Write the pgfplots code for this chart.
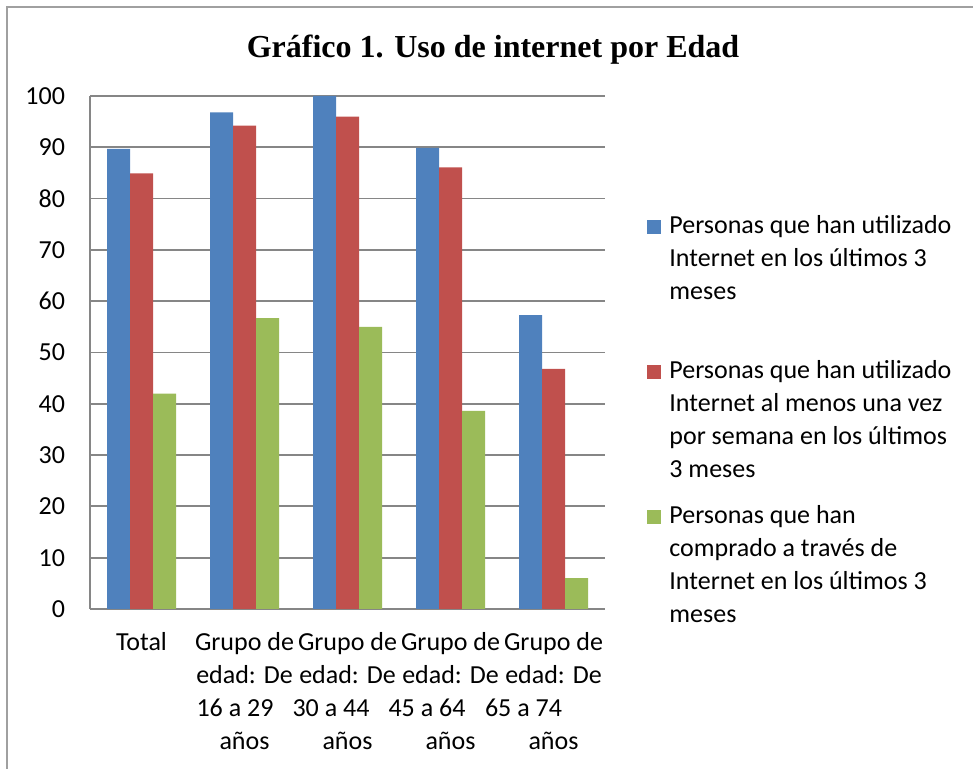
\documentclass[border=0pt]{standalone}
\usepackage{fontspec}
\setmainfont{Carlito}
\newfontfamily\titlefam{Liberation Serif}
\usepackage{pgfplots}
\pgfplotsset{compat=1.18}
\definecolor{sBlue}{HTML}{4F81BD}
\definecolor{sRed}{HTML}{C0504D}
\definecolor{sGreen}{HTML}{9BBB59}
\definecolor{gridGray}{HTML}{868686}
\definecolor{frameGray}{HTML}{A0A0A0}
\newcommand{\cf}{\fontsize{13}{16.5}\selectfont}
\begin{document}
\begin{tikzpicture}
\useasboundingbox (0,0) rectangle (486.5pt,384.5pt);
\draw[frameGray, line width=1pt] (3.5pt,-5pt) -- (3.5pt,381pt) -- (495pt,381pt);
\node[anchor=base, font={\titlefam\bfseries\fontsize{16}{19}\selectfont}] at (246.5pt,355.5pt) {Gráfico 1. Uso de internet por Edad};
\begin{axis}[
  at={(45pt,80pt)}, anchor=south west,
  scale only axis, width=257.5pt, height=256.5pt,
  xmin=-0.5, xmax=4.5, ymin=0, ymax=100,
  ytick={0,10,...,100},
  xtick={0,1,2,3,4},
  xticklabels={{Total},
    {Grupo de\\edad: De\\16 a 29\hspace*{9.5pt}\mbox{}\\años},
    {Grupo de\\edad: De\\30 a 44\hspace*{16.5pt}\mbox{}\\años},
    {Grupo de\\edad: De\\45 a 64\hspace*{23.5pt}\mbox{}\\años},
    {Grupo de\\edad: De\\65 a 74\hspace*{30pt}\mbox{}\\años}},
  xticklabel style={align=center, font=\cf, yshift=-4pt},
  yticklabel style={font=\cf, xshift=-9pt},
  /pgf/number format/assume math mode=true,
  ybar=0pt, bar width=11.5pt,
  axis x line*=bottom, axis y line*=left,
  axis line style={gridGray, line width=0.9pt},
  ymajorgrids, grid style={gridGray, line width=0.9pt},
  tick style={draw=none},
  legend style={draw=none, fill=none, inner sep=0pt,
    at={(1.0816,0.775)}, anchor=north west,
    cells={anchor=base west}, font=\cf, row sep=58pt},
  legend image code/.code={\fill[#1] (0pt,0pt) rectangle (7pt,7pt);},
]
\addplot[fill=sBlue, draw=none] coordinates {(0,89.7) (1,96.8) (2,100) (3,89.9) (4,57.3)};
\addplot[fill=sRed, draw=none] coordinates {(0,84.9) (1,94.2) (2,96.0) (3,86.1) (4,46.8)};
\addplot[fill=sGreen, draw=none] coordinates {(0,42.0) (1,56.7) (2,55.0) (3,38.6) (4,6.0)};
\legend{
  {\hspace*{2pt}\parbox[t]{150pt}{\raggedright Personas que han utilizado\\Internet en los últimos 3\\meses}},
  {\hspace*{2pt}\parbox[t]{150pt}{\raggedright Personas que han utilizado\\Internet al menos una vez\\por semana en los últimos\\3 meses}},
  {\hspace*{2pt}\parbox[t]{150pt}{\raggedright Personas que han\\comprado a través de\\Internet en los últimos 3\\meses}}}
\end{axis}
\end{tikzpicture}
\end{document}
